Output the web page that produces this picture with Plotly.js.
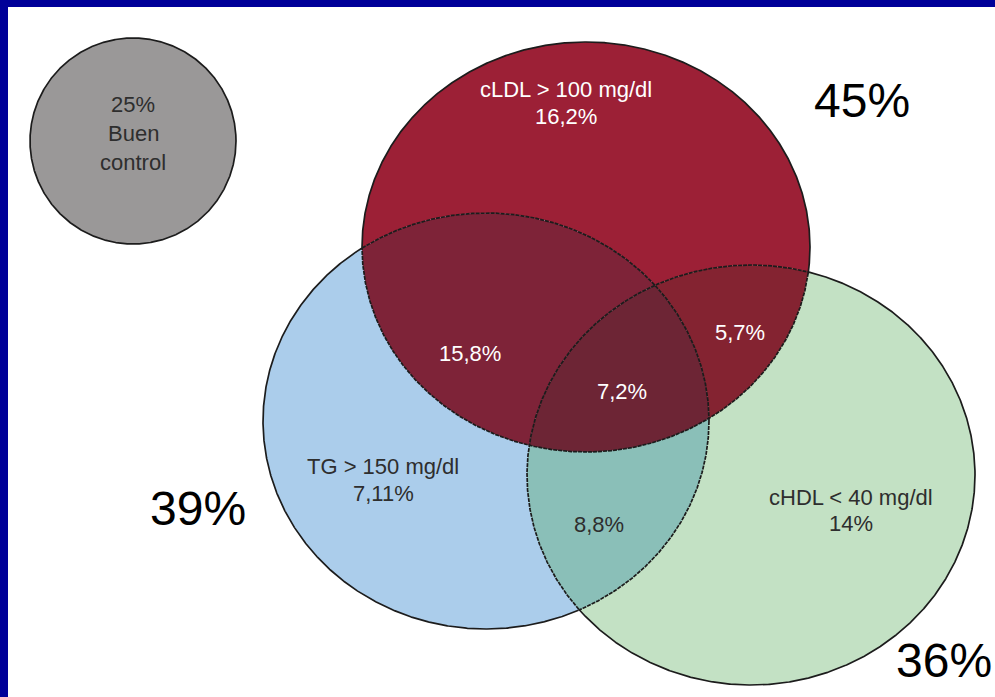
<!DOCTYPE html>
<html>
<head>
<meta charset="utf-8">
<script src="https://cdn.plot.ly/plotly-3.0.1.min.js"></script>
<style>
  html, body { margin: 0; padding: 0; background: #ffffff; overflow: hidden; }
  #frame {
    width: 995px; height: 697px; box-sizing: border-box;
    border-left: 8px solid #000099; border-top: 7px solid #000099;
    overflow: hidden; background: #ffffff;
  }
  #chart { width: 987px; height: 690px; }
</style>
</head>
<body>
<div id="frame"><div id="chart"></div></div>
<script>
// Lipid-control Venn diagram: three overlapping risk groups plus "good control".
const setNames   = ['cLDL > 100 mg/dl', 'TG > 150 mg/dl', 'cHDL < 40 mg/dl'];
const setTotals  = [45, 39, 36];          // share of patients in each group (%)
const onlyValues = [16.2, 7.11, 14];      // exclusively in one group (%)
const pairNames  = ['cLDL+TG', 'cLDL+cHDL', 'TG+cHDL'];
const pairValues = [15.8, 5.7, 8.8];      // in exactly two groups (%)
const tripleValue = 7.2;                  // in all three groups (%)
const controlValue = 25;                  // no lipid target missed (%)
const controlLabel = ['Buen', 'control'];

// Drawing geometry (plot units = pixels) and styling.
const shapesGeom = [
  { cx: 586, cy: 247, rx: 224, ry: 205 },  // cLDL
  { cx: 486, cy: 421, rx: 223, ry: 208 },  // TG
  { cx: 751, cy: 475, rx: 224, ry: 210 }   // cHDL
];
const controlGeom = { cx: 133, cy: 141, rx: 103, ry: 103 };
const fills = {
  single: ['#9c2036', '#abcdeb', '#c3e1c4'],
  pair:   ['#7e2338', '#842331', '#8abfb8'],
  pairIdx: [[0, 1], [0, 2], [1, 2]],
  triple: '#6d2535',
  control: '#9a9898'
};
const FONT = 'Liberation Sans, Arial, Helvetica, sans-serif';
const N = 1440;

function fmt(v) { return String(v).replace('.', ',') + '%'; }

function ellipsePoints(e) {
  const xs = [], ys = [];
  for (let i = 0; i <= N; i++) {
    const t = 2 * Math.PI * i / N;
    xs.push(e.cx + e.rx * Math.cos(t));
    ys.push(e.cy + e.ry * Math.sin(t));
  }
  return { xs, ys };
}
function inside(e, x, y) {
  const dx = (x - e.cx) / e.rx, dy = (y - e.cy) / e.ry;
  return dx * dx + dy * dy <= 1.0000001;
}
// Convex intersection of several ellipses as a polygon.
function intersection(list) {
  const pts = [];
  list.forEach((e, i) => {
    const p = ellipsePoints(e);
    for (let k = 0; k < N; k++) {
      const x = p.xs[k], y = p.ys[k];
      if (list.every((o, j) => j === i || inside(o, x, y))) pts.push([x, y]);
    }
  });
  const mx = pts.reduce((s, p) => s + p[0], 0) / pts.length;
  const my = pts.reduce((s, p) => s + p[1], 0) / pts.length;
  pts.sort((a, b) => Math.atan2(a[1] - my, a[0] - mx) - Math.atan2(b[1] - my, b[0] - mx));
  pts.push(pts[0]);
  return { xs: pts.map(p => p[0]), ys: pts.map(p => p[1]) };
}
function fillTrace(poly, color) {
  return {
    type: 'scatter', mode: 'lines', x: poly.xs, y: poly.ys,
    fill: 'toself', fillcolor: color, line: { width: 0, color: color },
    hoverinfo: 'skip'
  };
}

const traces = [];
traces.push(fillTrace(ellipsePoints(controlGeom), fills.control));
shapesGeom.forEach((e, i) => traces.push(fillTrace(ellipsePoints(e), fills.single[i])));
fills.pairIdx.forEach((pr, i) =>
  traces.push(fillTrace(intersection(pr.map(k => shapesGeom[k])), fills.pair[i])));
traces.push(fillTrace(intersection(shapesGeom), fills.triple));

// Outlines: solid on the outside, finely dashed where a circle crosses another.
const solid = { x: [], y: [] }, dashed = { x: [], y: [] };
shapesGeom.forEach((e, i) => {
  const p = ellipsePoints(e);
  let prev = null;
  for (let k = 0; k <= N; k++) {
    const x = p.xs[k], y = p.ys[k];
    const inner = shapesGeom.some((o, j) => j !== i && inside(o, x, y));
    if (prev !== null && inner !== prev) {
      const from = prev ? dashed : solid;
      from.x.push(x, null); from.y.push(y, null);
    }
    const target = inner ? dashed : solid;
    target.x.push(x); target.y.push(y);
    prev = inner;
  }
  solid.x.push(null); solid.y.push(null);
  dashed.x.push(null); dashed.y.push(null);
});
const ctl = ellipsePoints(controlGeom);
solid.x.push(...ctl.xs); solid.y.push(...ctl.ys);
traces.push({ type: 'scatter', mode: 'lines', x: solid.x, y: solid.y,
  line: { color: '#1c1c1c', width: 1.7 }, connectgaps: false, hoverinfo: 'skip' });
traces.push({ type: 'scatter', mode: 'lines', x: dashed.x, y: dashed.y,
  line: { color: '#1c1c1c', width: 1.7, dash: '4px,1px' }, connectgaps: false, hoverinfo: 'skip' });

function label(x, y, text, color, size) {
  return { x, y, xref: 'x', yref: 'y', text, showarrow: false,
    xanchor: 'center', yanchor: 'middle',
    font: { family: FONT, size: size || 20, color } };
}
const W = '#ffffff', D = '#2e2e2e', S = 22, BIG = 48;
const annotations = [
  label(566, 89, setNames[0], W, S), label(566, 116, fmt(onlyValues[0]), W, S),
  label(383, 466, setNames[1], D, S), label(383, 493, fmt(onlyValues[1]), D, S),
  label(851, 497, setNames[2], D, S), label(851, 523, fmt(onlyValues[2]), D, S),
  label(470, 353, fmt(pairValues[0]), W, S),
  label(740, 332, fmt(pairValues[1]), W, S),
  label(599, 524, fmt(pairValues[2]), D, S),
  label(622, 391, fmt(tripleValue), W, S),
  label(133, 104, fmt(controlValue), D, S),
  label(133, 133, controlLabel[0], D, S),
  label(133, 162, controlLabel[1], D, S),
  label(862, 100, setTotals[0] + '%', '#000', BIG),
  label(198, 508, setTotals[1] + '%', '#000', BIG),
  label(944, 660, setTotals[2] + '%', '#000', BIG)
];

const layout = {
  width: 987, height: 690,
  margin: { l: 0, t: 0, r: 0, b: 0, pad: 0 },
  paper_bgcolor: '#ffffff', plot_bgcolor: '#ffffff',
  showlegend: false,
  xaxis: { range: [8, 995], visible: false, fixedrange: true },
  yaxis: { range: [697, 7], visible: false, fixedrange: true },
  annotations
};
Plotly.newPlot('chart', traces, layout, { displayModeBar: false, staticPlot: true });
</script>
</body>
</html>
